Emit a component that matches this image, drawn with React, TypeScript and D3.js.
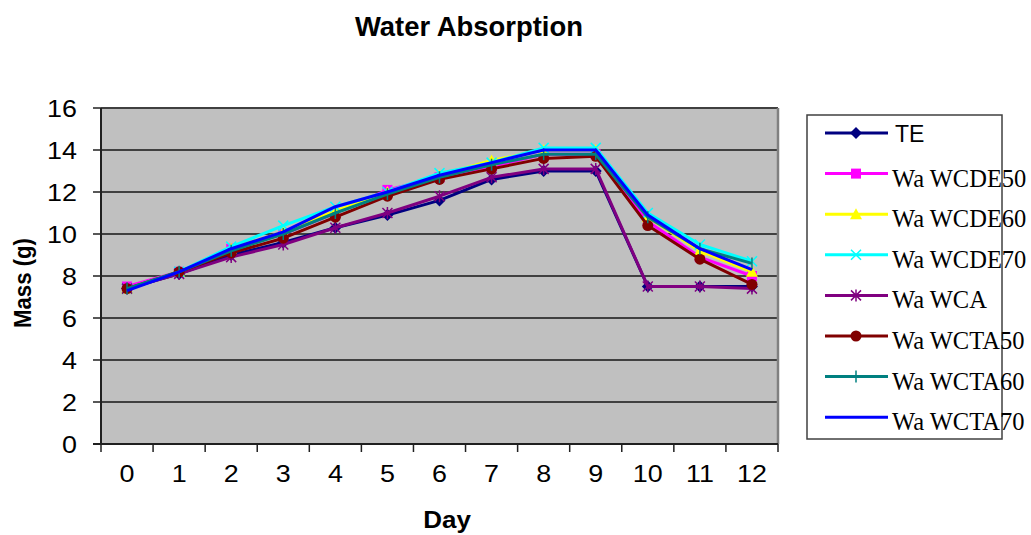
import React from "react";
import * as d3 from "d3";

const days = ["0", "1", "2", "3", "4", "5", "6", "7", "8", "9", "10", "11", "12"];
const yTicks = [0, 2, 4, 6, 8, 10, 12, 14, 16];

const TE = [7.4, 8.1, 9.0, 9.6, 10.3, 10.9, 11.6, 12.6, 13.0, 13.0, 7.5, 7.5, 7.5];
const WCDE50 = [7.5, 8.2, 9.3, 10.0, 11.0, 12.1, 12.7, 13.2, 13.8, 13.8, 10.6, 8.9, 8.0];
const WCDE60 = [7.4, 8.2, 9.3, 10.1, 11.1, 12.0, 12.8, 13.5, 14.0, 14.0, 10.8, 9.2, 8.2];
const WCDE70 = [7.4, 8.2, 9.4, 10.4, 11.3, 12.0, 12.9, 13.4, 14.1, 14.1, 11.0, 9.5, 8.7];
const WCA = [7.4, 8.1, 8.9, 9.5, 10.3, 11.0, 11.8, 12.7, 13.1, 13.1, 7.5, 7.5, 7.4];
const WCTA50 = [7.4, 8.2, 9.1, 9.8, 10.8, 11.8, 12.6, 13.1, 13.6, 13.7, 10.4, 8.8, 7.6];
const WCTA60 = [7.4, 8.2, 9.2, 10.0, 11.0, 11.9, 12.7, 13.3, 13.8, 13.8, 10.8, 9.3, 8.6];
const WCTA70 = [7.3, 8.2, 9.3, 10.1, 11.3, 12.0, 12.8, 13.4, 14.0, 14.0, 10.9, 9.3, 8.3];

const series = [
  { name: "TE", values: TE, color: "#000080", marker: "diamond", sans: true },
  { name: "Wa WCDE50", values: WCDE50, color: "#FF00FF", marker: "square" },
  { name: "Wa WCDE60", values: WCDE60, color: "#FFFF00", marker: "triangle" },
  { name: "Wa WCDE70", values: WCDE70, color: "#00FFFF", marker: "x" },
  { name: "Wa WCA", values: WCA, color: "#800080", marker: "star" },
  { name: "Wa WCTA50", values: WCTA50, color: "#800000", marker: "circle" },
  { name: "Wa WCTA60", values: WCTA60, color: "#008080", marker: "plus" },
  { name: "Wa WCTA70", values: WCTA70, color: "#0000FF", marker: "none" },
];

const SANS = "Liberation Sans, Arial, sans-serif";
const SERIF = "Liberation Serif, Times New Roman, serif";

function Marker({ type, x, y, color }: { type: string; x: number; y: number; color: string }) {
  const s = 5;
  switch (type) {
    case "diamond":
      return <path d={`M${x},${y - s - 1}L${x + s + 1},${y}L${x},${y + s + 1}L${x - s - 1},${y}Z`} fill={color} />;
    case "square":
      return <rect x={x - s} y={y - s} width={2 * s} height={2 * s} fill={color} />;
    case "triangle":
      return <path d={`M${x},${y - s - 1}L${x + s + 1},${y + s}L${x - s - 1},${y + s}Z`} fill={color} />;
    case "x":
      return (
        <path d={`M${x - s},${y - s}L${x + s},${y + s}M${x - s},${y + s}L${x + s},${y - s}`} stroke={color} strokeWidth={1.5} />
      );
    case "star":
      return (
        <path
          d={`M${x - s},${y - s}L${x + s},${y + s}M${x - s},${y + s}L${x + s},${y - s}M${x},${y - s - 1}L${x},${y + s + 1}`}
          stroke={color}
          strokeWidth={1.5}
        />
      );
    case "circle":
      return <circle cx={x} cy={y} r={s + 0.5} fill={color} />;
    case "plus":
      return <path d={`M${x},${y - s - 1}L${x},${y + s + 1}`} stroke={color} strokeWidth={1.5} />;
    default:
      return null;
  }
}

export default function App() {
  const W = 1031;
  const H = 535;
  const left = 101;
  const right = 778;
  const top = 108;
  const bottom = 444;

  const x = d3.scaleBand<string>().domain(days).range([left, right]);
  const y = d3.scaleLinear().domain([0, 16]).range([bottom, top]);
  const line = d3
    .line<number>()
    .x((_, i) => (x(days[i]) as number) + x.bandwidth() / 2)
    .y((d) => y(d));

  const boundaries = days.map((d) => x(d) as number).concat([right]);

  return (
    <svg width={W} height={H} style={{ position: "absolute", left: 0, top: 0, background: "#fff" }}>
      <text
        x={469}
        y={36}
        textAnchor="middle"
        fontFamily={SANS}
        fontWeight="bold"
        fontSize={28}
        textLength={228}
        lengthAdjust="spacingAndGlyphs"
      >
        Water Absorption
      </text>

      <rect x={left} y={top} width={right - left} height={bottom - top} fill="#C0C0C0" />
      {yTicks.map((t) => (
        <line key={t} x1={left} x2={right} y1={y(t)} y2={y(t)} stroke="#404040" strokeWidth={2} />
      ))}
      <line x1={right} x2={right} y1={top} y2={bottom} stroke="#808080" strokeWidth={2.5} />
      <line x1={left} x2={left} y1={top} y2={bottom + 1} stroke="#202020" strokeWidth={2} />
      <line x1={left - 8} x2={right} y1={bottom} y2={bottom} stroke="#202020" strokeWidth={2} />

      {yTicks.map((t) => (
        <g key={"yt" + t}>
          <line x1={left - 8} x2={left} y1={y(t)} y2={y(t)} stroke="#202020" strokeWidth={1.5} />
          <text
            transform={`translate(${left - 24},${y(t) + 8.5}) scale(1.12,1)`}
            textAnchor="end"
            fontFamily={SANS}
            fontSize={24}
          >
            {t}
          </text>
        </g>
      ))}
      {boundaries.map((b, i) => (
        <line key={"xt" + i} x1={b} x2={b} y1={bottom} y2={bottom + 8} stroke="#202020" strokeWidth={1.5} />
      ))}
      {days.map((d) => (
        <text
          key={"xl" + d}
          transform={`translate(${(x(d) as number) + x.bandwidth() / 2},482) scale(1.12,1)`}
          textAnchor="middle"
          fontFamily={SANS}
          fontSize={24}
        >
          {d}
        </text>
      ))}

      <text
        transform="translate(447,528) scale(1.13,1)"
        textAnchor="middle"
        fontFamily={SANS}
        fontWeight="bold"
        fontSize={23}
      >
        Day
      </text>
      <text
        transform="translate(31,283) rotate(-90)"
        textAnchor="middle"
        fontFamily={SANS}
        fontWeight="bold"
        fontSize={24}
        textLength={90}
        lengthAdjust="spacingAndGlyphs"
      >
        Mass (g)
      </text>

      {series.map((s) => (
        <g key={s.name}>
          <path d={line(s.values) as string} fill="none" stroke={s.color} strokeWidth={3} strokeLinejoin="round" />
          {s.values.map((v, i) => (
            <Marker key={i} type={s.marker} x={(x(days[i]) as number) + x.bandwidth() / 2} y={y(v)} color={s.color} />
          ))}
        </g>
      ))}

      <rect x={807} y={115} width={195} height={324} fill="#fff" stroke="#404040" strokeWidth={1.5} />
      {series.map((s, i) => {
        const ly = 133 + i * 40.6;
        return (
          <g key={"lg" + s.name}>
            <line x1={825} x2={888} y1={ly} y2={ly} stroke={s.color} strokeWidth={3} />
            <Marker type={s.marker} x={856} y={ly} color={s.color} />
            <text
              x={s.sans ? 895 : 892}
              y={s.sans ? ly + 9 : ly + 13}
              fontFamily={s.sans ? SANS : SERIF}
              fontSize={s.sans ? 23 : 24.5}
            >
              {s.name}
            </text>
          </g>
        );
      })}
    </svg>
  );
}
